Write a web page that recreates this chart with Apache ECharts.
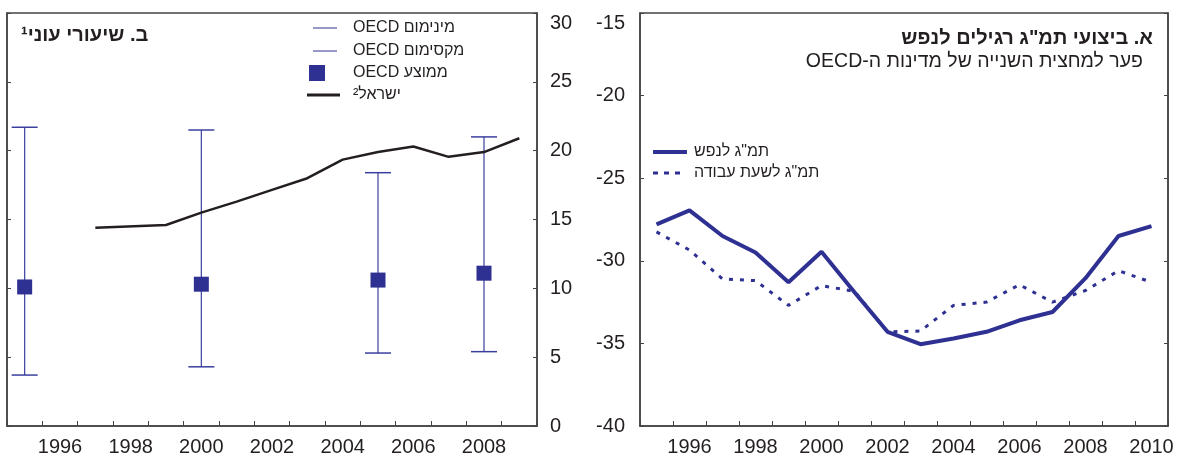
<!DOCTYPE html>
<html><head><meta charset="utf-8">
<script src="https://cdn.jsdelivr.net/npm/echarts@6/dist/echarts.min.js"></script>
<style>html,body{margin:0;padding:0;background:#fff}#c{width:1178px;height:453px}</style>
</head><body><div id="c"></div>
<script>
// ---- data: panel B (poverty rates) ----
const yearsLeft = ['1995','1996','1997','1998','1999','2000','2001','2002','2003','2004','2005','2006','2007','2008','2009'];
const oecdYears = ['1995','2000','2005','2008'];
const oecdMin  = [3.7, 4.3, 5.3, 5.4];
const oecdMax  = [21.7, 21.5, 18.4, 21.0];
const oecdMean = [10.1, 10.3, 10.6, 11.1];
const israelYears = ['1997','1999','2000','2001','2002','2003','2004','2005','2006','2007','2008','2009'];
const israelRate  = [14.4, 14.6, 15.5, 16.3, 17.15, 18.0, 19.35, 19.9, 20.3, 19.55, 19.9, 20.9];
const leftTickMin = 0, leftTickMax = 30, leftTickStep = 5;

// ---- data: panel A (GDP gap) ----
const yearsRight = ['1995','1996','1997','1998','1999','2000','2001','2002','2003','2004','2005','2006','2007','2008','2009','2010'];
const gdpPerCapita = [-27.8, -26.95, -28.5, -29.5, -31.3, -29.45, -31.9, -34.3, -35.05, -34.7, -34.3, -33.6, -33.1, -31.05, -28.5, -27.9];
const gdpPerHour   = [-28.25, -29.35, -31.1, -31.2, -32.7, -31.5, -31.85, -34.3, -34.25, -32.7, -32.5, -31.45, -32.5, -31.8, -30.6, -31.3];
const rightTickMin = -40, rightTickMax = -15, rightTickStep = 5;

// ---- labels ----
const titleLeft = 'ב. שיעורי עוני¹';
const titleRight = 'א. ביצועי תמ"ג רגילים לנפש';
const subtitleRight = 'OECD-פער למחצית השנייה של מדינות ה';
const nameMin = 'OECD מינימום';
const nameMax = 'OECD מקסימום';
const nameMean = 'OECD ממוצע';
const nameIsrael = 'ישראל²';
const namePerCapita = 'תמ"ג לנפש';
const namePerHour = 'תמ"ג לשעת עבודה';

// ---- styles ----
const FONT = '"Liberation Sans", Arial, sans-serif';
const TXT = '#231F20';
const AX = '#444444';
const BLUE = '#2E3192';
const BAR = '#3A3F9E';
const LEG_FS = 16;

const israelSeries = yearsLeft.map(y => { const k = israelYears.indexOf(y); return k < 0 ? null : israelRate[k]; });

function errorHalf(params, api) {
  const c = api.value(0);
  const p0 = api.coord([c, api.value(1)]);
  const p1 = api.coord([c, api.value(2)]);
  return { type: 'group', children: [
    { type: 'line', shape: { x1: p0[0], y1: p0[1], x2: p1[0], y2: p1[1] }, style: { stroke: BAR, lineWidth: 1.2 } },
    { type: 'line', shape: { x1: p1[0] - 13, y1: p1[1], x2: p1[0] + 13, y2: p1[1] }, style: { stroke: BAR, lineWidth: 1.5 } }
  ]};
}

function xAxisCfg(gi, cats) {
  return { gridIndex: gi, type: 'category', data: cats, boundaryGap: true,
    axisLine: { show: true, onZero: false, lineStyle: { color: AX, width: 1.5 } },
    axisTick: { show: true, inside: true, length: 5, interval: 0, lineStyle: { color: AX, width: 1 } },
    axisLabel: { interval: (i) => i % 2 === 1, fontSize: 20, color: TXT, margin: 11, fontFamily: FONT },
    splitLine: { show: false } };
}
function yAxisCfg(gi, pos, mn, mx, step, labels, margin) {
  return { gridIndex: gi, type: 'value', position: pos, min: mn, max: mx, interval: step,
    axisLine: { show: true, onZero: false, lineStyle: { color: AX, width: 1.5 } },
    axisTick: { show: true, inside: true, length: 4, lineStyle: { color: AX, width: 1 } },
    axisLabel: { show: labels, fontSize: 20, color: TXT, margin: margin, fontFamily: FONT, verticalAlignMaxLabel: 'top' },
    splitLine: { show: false } };
}
function legendCfg(name, icon, color, left, centerY, w, h, pad) {
  const boxH = Math.max(h, LEG_FS);
  return { data: [{ name: name, icon: icon, itemStyle: { color: color, borderWidth: 0, opacity: 1 } }],
    left: left, top: centerY - boxH / 2, itemWidth: w, itemHeight: h, padding: 0, selectedMode: false,
    itemStyle: { borderWidth: 0 },
    textStyle: { fontSize: LEG_FS, color: TXT, fontFamily: FONT, padding: [0, 0, 0, pad] } };
}

const chart = echarts.init(document.getElementById('c'), null, { renderer: 'canvas' });
chart.setOption({
  animation: false,
  backgroundColor: '#fff',
  title: [
    { text: titleLeft, left: 21, top: 25, padding: 0, textStyle: { fontSize: 20, fontWeight: 'bold', color: TXT, fontFamily: FONT } },
    { text: titleRight, right: 25, top: 28, padding: 0, textStyle: { fontSize: 20, fontWeight: 'bold', color: TXT, fontFamily: FONT } },
    { text: subtitleRight, right: 35, top: 52, padding: 0, textStyle: { fontSize: 19.5, fontWeight: 'normal', color: TXT, fontFamily: FONT } }
  ],
  grid: [
    { left: 7, top: 13, width: 530, height: 413, outerBoundsMode: 'none', containLabel: false, show: true, borderColor: AX, borderWidth: 1.5, backgroundColor: 'transparent' },
    { left: 640, top: 13, width: 528, height: 413, outerBoundsMode: 'none', containLabel: false, show: true, borderColor: AX, borderWidth: 1.5, backgroundColor: 'transparent' }
  ],
  xAxis: [ xAxisCfg(0, yearsLeft), xAxisCfg(1, yearsRight) ],
  yAxis: [
    yAxisCfg(0, 'right', leftTickMin, leftTickMax, leftTickStep, true, 13),
    yAxisCfg(0, 'left', leftTickMin, leftTickMax, leftTickStep, false, 8),
    yAxisCfg(1, 'left', rightTickMin, rightTickMax, rightTickStep, true, 15),
    yAxisCfg(1, 'right', rightTickMin, rightTickMax, rightTickStep, false, 8)
  ],
  legend: [
    legendCfg(nameMin, 'rect', BLUE, 313, 28, 24, 1, 11),
    legendCfg(nameMax, 'rect', BLUE, 313, 51, 24, 1, 11),
    legendCfg(nameMean, 'rect', BLUE, 309, 73, 16, 16, 23),
    legendCfg(nameIsrael, 'rect', TXT, 307, 95, 33, 3, 8),
    legendCfg(namePerCapita, 'rect', BLUE, 653, 152, 34, 4, 2),
    legendCfg(namePerHour, 'path://M0,0h5v3h-5zM11,0h5v3h-5zM22,0h5v3h-5z', BLUE, 653, 173, 27, 3, 9)
  ],
  series: [
    { name: nameMin, type: 'custom', xAxisIndex: 0, yAxisIndex: 0, z: 2,
      encode: { x: 0, y: [1, 2] }, itemStyle: { color: BLUE }, renderItem: errorHalf,
      data: oecdYears.map((y, i) => [y, oecdMean[i], oecdMin[i]]) },
    { name: nameMax, type: 'custom', xAxisIndex: 0, yAxisIndex: 0, z: 2,
      encode: { x: 0, y: [1, 2] }, itemStyle: { color: BLUE }, renderItem: errorHalf,
      data: oecdYears.map((y, i) => [y, oecdMean[i], oecdMax[i]]) },
    { name: nameMean, type: 'scatter', xAxisIndex: 0, yAxisIndex: 0, z: 3,
      symbol: 'rect', symbolSize: 15, itemStyle: { color: BLUE, opacity: 1 },
      data: oecdYears.map((y, i) => [y, oecdMean[i]]) },
    { name: nameIsrael, type: 'line', xAxisIndex: 0, yAxisIndex: 0, z: 4,
      symbol: 'none', connectNulls: true, itemStyle: { color: TXT },
      lineStyle: { color: TXT, width: 2.5 }, data: israelSeries },
    { name: namePerHour, type: 'line', xAxisIndex: 1, yAxisIndex: 2, z: 3,
      symbol: 'none', itemStyle: { color: BLUE },
      lineStyle: { color: BLUE, width: 3, type: [4, 7] }, data: gdpPerHour },
    { name: namePerCapita, type: 'line', xAxisIndex: 1, yAxisIndex: 2, z: 4,
      symbol: 'none', itemStyle: { color: BLUE },
      lineStyle: { color: BLUE, width: 4 }, data: gdpPerCapita }
  ]
});
</script>
</body></html>
